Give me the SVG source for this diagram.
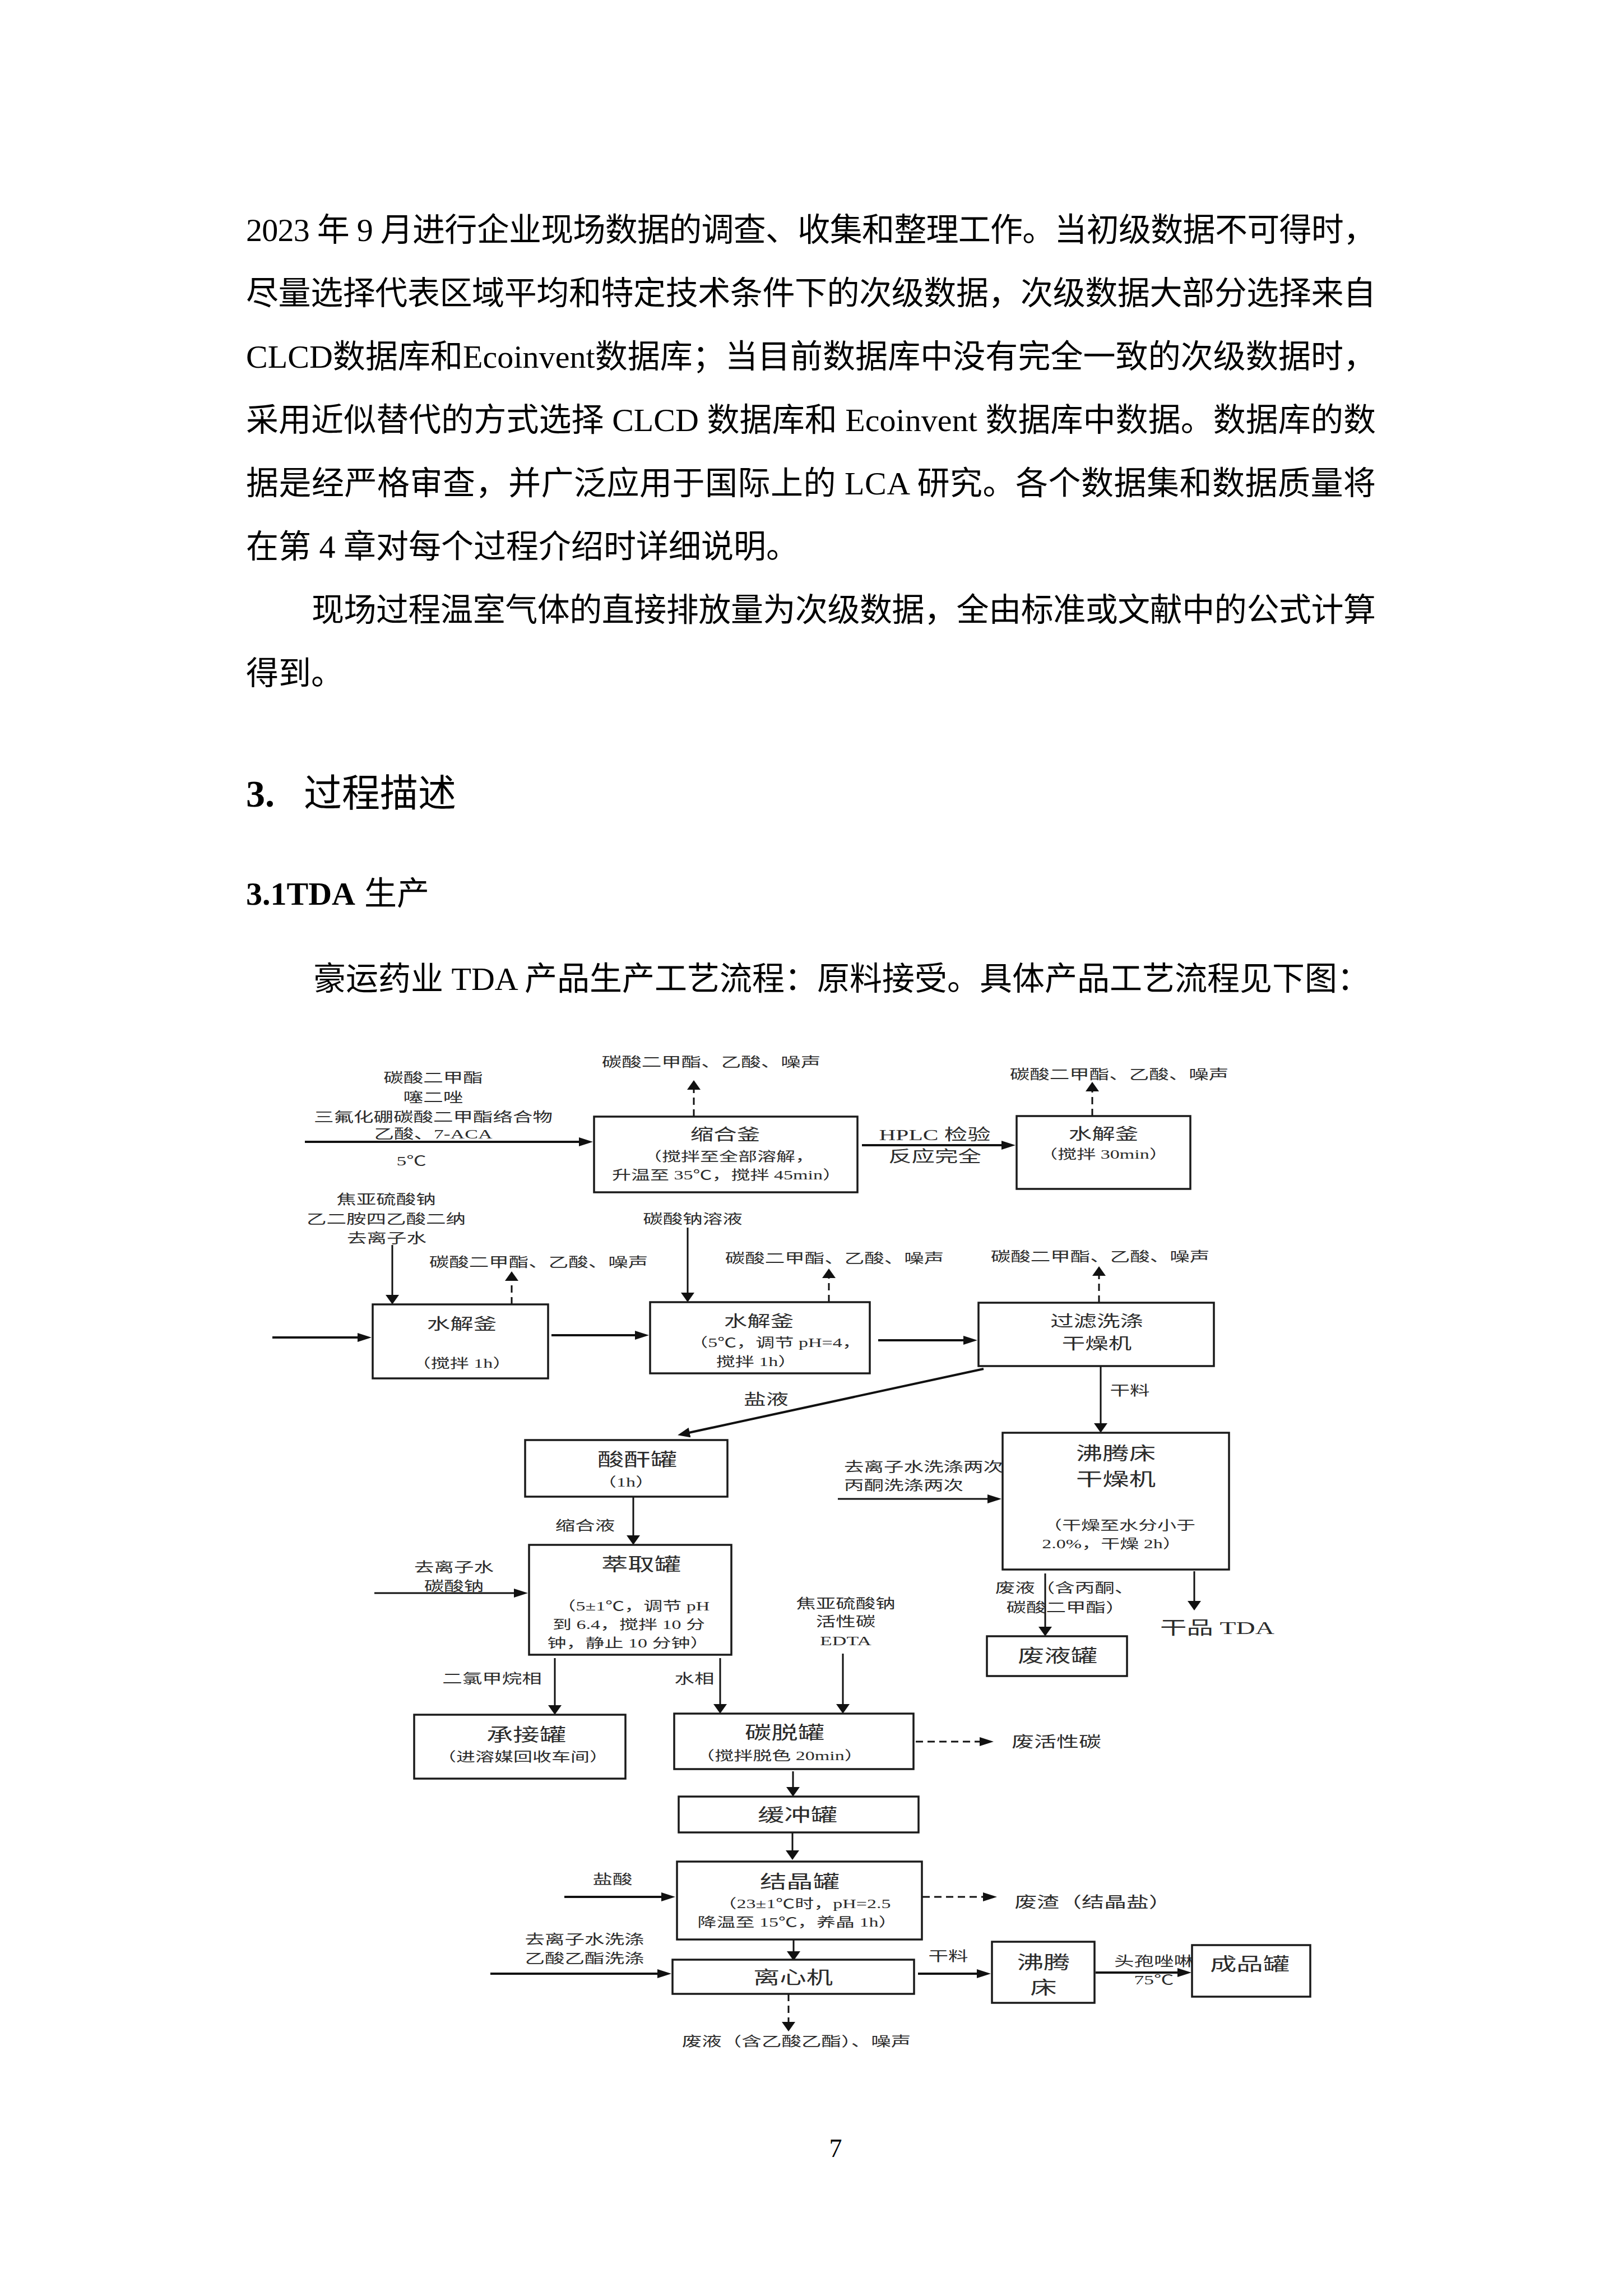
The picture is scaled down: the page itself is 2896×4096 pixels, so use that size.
<svg xmlns="http://www.w3.org/2000/svg" width="2896" height="4096" viewBox="0 0 2896 4096">
<style>
.body{font-family:"Liberation Serif","Noto Sans CJK SC",serif;font-size:58px;fill:#000}
.d{font-family:"Liberation Serif","Noto Sans CJK SC",serif;fill:#2b2b2b;text-anchor:middle;dominant-baseline:central}
.st{text-anchor:start}
.lb{font-size:24px}
.sb{font-size:23px}
.m{font-size:27px}
.t1{font-size:28px}
.t2{font-size:32px}
.box{fill:#fff;stroke:#1a1a1a;stroke-width:3.5}
.ln{fill:none;stroke:#111;stroke-width:3}
.main{stroke-width:4}
.dash{stroke-dasharray:13 8}
</style>
<defs>
<marker id="ah" viewBox="0 0 25 16" refX="19" refY="8" markerWidth="25" markerHeight="16" markerUnits="userSpaceOnUse" orient="auto"><path d="M0,0L25,8L0,16z" fill="#111"/></marker>
<marker id="av" viewBox="0 0 17 24" refX="11" refY="12" markerWidth="17" markerHeight="24" markerUnits="userSpaceOnUse" orient="auto"><path d="M0,0L17,12L0,24z" fill="#111"/></marker>
<marker id="ad" viewBox="0 0 22 18" refX="16" refY="9" markerWidth="22" markerHeight="18" markerUnits="userSpaceOnUse" orient="auto"><path d="M0,0L22,9L0,18z" fill="#111"/></marker>
</defs>
<rect width="2896" height="4096" fill="#fff"/>

<g id="page-text">
<text class="body" x="439" y="430" textLength="2016" lengthAdjust="spacing">2023 年 9 月进行企业现场数据的调查、收集和整理工作。当初级数据不可得时，</text>
<text class="body" x="439" y="543" textLength="2016" lengthAdjust="spacing">尽量选择代表区域平均和特定技术条件下的次级数据，次级数据大部分选择来自</text>
<text class="body" x="439" y="656" textLength="2016" lengthAdjust="spacing">CLCD数据库和Ecoinvent数据库；当目前数据库中没有完全一致的次级数据时，</text>
<text class="body" x="439" y="769" textLength="2016" lengthAdjust="spacing">采用近似替代的方式选择 CLCD 数据库和 Ecoinvent 数据库中数据。数据库的数</text>
<text class="body" x="439" y="882" textLength="2016" lengthAdjust="spacing">据是经严格审查，并广泛应用于国际上的 LCA 研究。各个数据集和数据质量将</text>
<text class="body" x="439" y="995">在第 4 章对每个过程介绍时详细说明。</text>
<text class="body" x="556" y="1108" textLength="1899" lengthAdjust="spacing">现场过程温室气体的直接排放量为次级数据，全由标准或文献中的公式计算</text>
<text class="body" x="439" y="1221">得到。</text>
<text class="body" x="439" y="1439" style="font-size:68px"><tspan font-weight="bold">3.</tspan><tspan x="542">过程描述</tspan></text>
<text class="body" x="439" y="1614"><tspan font-weight="bold">3.1TDA</tspan><tspan x="650">生产</tspan></text>
<text class="body" x="559" y="1766">豪运药业 TDA 产品生产工艺流程：原料接受。具体产品工艺流程见下图：</text>
<text class="body" x="1491" y="3848" text-anchor="middle" style="font-size:46px">7</text>
</g>

<g id="connectors">
<path class="ln main" d="M544,2037H1052" marker-end="url(#ah)"/>
<path class="ln dash" d="M1238,1992V1933" marker-end="url(#av)"/>
<path class="ln main" d="M1538,2043H1806" marker-end="url(#ah)"/>
<path class="ln dash" d="M1949,1991V1936" marker-end="url(#av)"/>
<path class="ln main" d="M486,2386H657" marker-end="url(#ah)"/>
<path class="ln" d="M700,2221V2321" marker-end="url(#av)"/>
<path class="ln dash" d="M913,2327V2274" marker-end="url(#av)"/>
<path class="ln main" d="M984,2382H1152" marker-end="url(#ah)"/>
<path class="ln" d="M1227,2190V2317" marker-end="url(#av)"/>
<path class="ln dash" d="M1479,2323V2269" marker-end="url(#av)"/>
<path class="ln main" d="M1567,2391H1738" marker-end="url(#ah)"/>
<path class="ln dash" d="M1961,2324V2265" marker-end="url(#av)"/>
<path class="ln main" d="M1755,2442L1215,2559" marker-end="url(#ad)"/>
<path class="ln" d="M1964,2437V2550" marker-end="url(#av)"/>
<path class="ln" d="M1130,2670V2750" marker-end="url(#av)"/>
<path class="ln" d="M668,2842H936" marker-end="url(#ah)"/>
<path class="ln" d="M1495,2674H1781" marker-end="url(#ah)"/>
<path class="ln" d="M1865,2807V2913" marker-end="url(#av)"/>
<path class="ln" d="M2131,2803V2867" marker-end="url(#av)"/>
<path class="ln" d="M990,2958V3053" marker-end="url(#av)"/>
<path class="ln" d="M1285,2958V3051" marker-end="url(#av)"/>
<path class="ln" d="M1504,2950V3051" marker-end="url(#av)"/>
<path class="ln dash" d="M1634,3107H1767" marker-end="url(#ah)"/>
<path class="ln" d="M1415,3160V3199" marker-end="url(#av)"/>
<path class="ln" d="M1414,3269V3312" marker-end="url(#av)"/>
<path class="ln main" d="M1007,3384H1199" marker-end="url(#ah)"/>
<path class="ln dash" d="M1646,3384H1773" marker-end="url(#ah)"/>
<path class="ln" d="M1416,3460V3492" marker-end="url(#av)"/>
<path class="ln main" d="M875,3521H1192" marker-end="url(#ah)"/>
<path class="ln dash" d="M1407,3557V3618" marker-end="url(#av)"/>
<path class="ln main" d="M1638,3521H1762" marker-end="url(#ah)"/>
<path class="ln main" d="M1955,3519H2120" marker-end="url(#ah)"/>
</g>

<g id="labels">
<text class="d lb" transform="translate(773 1923) scale(1.48 1)">碳酸二甲酯</text>
<text class="d lb" transform="translate(773 1958) scale(1.48 1)">噻二唑</text>
<text class="d lb" transform="translate(773 1993) scale(1.48 1)">三氟化硼碳酸二甲酯络合物</text>
<text class="d lb" transform="translate(773 2023) scale(1.48 1)">乙酸、7-ACA</text>
<text class="d lb" transform="translate(734 2071) scale(1.48 1)">5℃</text>
<text class="d lb" transform="translate(1269 1895) scale(1.48 1)">碳酸二甲酯、乙酸、噪声</text>
<text class="d t1" transform="translate(1668 2024) scale(1.48 1)">HPLC 检验</text>
<text class="d t1" transform="translate(1668 2063) scale(1.48 1)">反应完全</text>
<text class="d lb" transform="translate(1997 1917) scale(1.48 1)">碳酸二甲酯、乙酸、噪声</text>
<text class="d lb" transform="translate(689 2140) scale(1.48 1)">焦亚硫酸钠</text>
<text class="d lb" transform="translate(689 2175) scale(1.48 1)">乙二胺四乙酸二纳</text>
<text class="d lb" transform="translate(690 2209) scale(1.48 1)">去离子水</text>
<text class="d lb" transform="translate(961 2252) scale(1.48 1)">碳酸二甲酯、乙酸、噪声</text>
<text class="d lb" transform="translate(1236 2175) scale(1.48 1)">碳酸钠溶液</text>
<text class="d lb" transform="translate(1489 2245) scale(1.48 1)">碳酸二甲酯、乙酸、噪声</text>
<text class="d lb" transform="translate(1963 2242) scale(1.48 1)">碳酸二甲酯、乙酸、噪声</text>
<text class="d m" transform="translate(1367 2497) scale(1.48 1)">盐液</text>
<text class="d lb" transform="translate(2016 2481) scale(1.48 1)">干料</text>
<text class="d lb" transform="translate(1044 2722) scale(1.48 1)">缩合液</text>
<text class="d lb" transform="translate(810 2796) scale(1.48 1)">去离子水</text>
<text class="d lb" transform="translate(810 2830) scale(1.48 1)">碳酸钠</text>
<text class="d lb st" transform="translate(1506 2617) scale(1.48 1)">去离子水洗涤两次</text>
<text class="d lb st" transform="translate(1506 2650) scale(1.48 1)">丙酮洗涤两次</text>
<text class="d lb" transform="translate(1509 2861) scale(1.48 1)">焦亚硫酸钠</text>
<text class="d lb" transform="translate(1509 2893) scale(1.48 1)">活性碳</text>
<text class="d lb" transform="translate(1509 2927) scale(1.48 1)">EDTA</text>
<text class="d lb" transform="translate(1900 2833) scale(1.48 1)">废液（含丙酮、</text>
<text class="d lb" transform="translate(1902 2868) scale(1.48 1)">碳酸二甲酯）</text>
<text class="d t2" transform="translate(2172 2904) scale(1.48 1)">干品 TDA</text>
<text class="d lb" transform="translate(878 2995) scale(1.48 1)">二氯甲烷相</text>
<text class="d lb" transform="translate(1239 2995) scale(1.48 1)">水相</text>
<text class="d m" transform="translate(1885 3108) scale(1.48 1)">废活性碳</text>
<text class="d lb" transform="translate(1093 3353) scale(1.48 1)">盐酸</text>
<text class="d m" transform="translate(1950 3394) scale(1.48 1)">废渣（结晶盐）</text>
<text class="d lb" transform="translate(1043 3460) scale(1.48 1)">去离子水洗涤</text>
<text class="d lb" transform="translate(1043 3494) scale(1.48 1)">乙酸乙酯洗涤</text>
<text class="d lb" transform="translate(1421 3642) scale(1.48 1)">废液（含乙酸乙酯）、噪声</text>
<text class="d lb" transform="translate(1692 3490) scale(1.48 1)">干料</text>
<text class="d lb st" transform="translate(1988 3499) scale(1.48 1)">头孢唑啉</text>
<text class="d lb" transform="translate(2059 3532) scale(1.48 1)">75℃</text>
</g>

<g id="n-suohefu">
<rect class="box" x="1060" y="1992" width="470" height="135"/>
<text class="d t1" transform="translate(1294 2024) scale(1.48 1)">缩合釜</text>
<text class="d sb" transform="translate(1300 2063) scale(1.48 1)">（搅拌至全部溶解，</text>
<text class="d sb" transform="translate(1297 2096) scale(1.48 1)">升温至 35℃，搅拌 45min）</text>
</g>
<g id="n-shuijiefu1">
<rect class="box" x="1814" y="1991" width="310" height="130"/>
<text class="d t1" transform="translate(1969 2023) scale(1.48 1)">水解釜</text>
<text class="d sb" transform="translate(1969 2059) scale(1.48 1)">（搅拌 30min）</text>
</g>
<g id="n-shuijiefu2">
<rect class="box" x="665" y="2327" width="313" height="132"/>
<text class="d t1" transform="translate(824 2362) scale(1.48 1)">水解釜</text>
<text class="d sb" transform="translate(824 2432) scale(1.48 1)">（搅拌 1h）</text>
</g>
<g id="n-shuijiefu3">
<rect class="box" x="1160" y="2323" width="392" height="127"/>
<text class="d t1" transform="translate(1354 2357) scale(1.48 1)">水解釜</text>
<text class="d sb" transform="translate(1383 2395) scale(1.48 1)">（5℃，调节 pH=4，</text>
<text class="d sb" transform="translate(1350 2429) scale(1.48 1)">搅拌 1h）</text>
</g>
<g id="n-guolv">
<rect class="box" x="1746" y="2324" width="420" height="113"/>
<text class="d t1" transform="translate(1957 2357) scale(1.48 1)">过滤洗涤</text>
<text class="d t1" transform="translate(1957 2397) scale(1.48 1)">干燥机</text>
</g>
<g id="n-suangan">
<rect class="box" x="937" y="2569" width="361" height="101"/>
<text class="d t2" transform="translate(1137 2604) scale(1.48 1)">酸酐罐</text>
<text class="d sb" transform="translate(1117 2644) scale(1.48 1)">（1h）</text>
</g>
<g id="n-cuiqu">
<rect class="box" x="944" y="2756" width="361" height="196"/>
<text class="d t2" transform="translate(1144 2791) scale(1.48 1)">萃取罐</text>
<text class="d sb" transform="translate(1130 2865) scale(1.48 1)">（5±1℃，调节 pH</text>
<text class="d sb" transform="translate(1122 2898) scale(1.48 1)">到 6.4，搅拌 10 分</text>
<text class="d sb" transform="translate(1121 2931) scale(1.48 1)">钟，静止 10 分钟）</text>
</g>
<g id="n-feitengchuang1">
<rect class="box" x="1789" y="2556" width="404" height="244"/>
<text class="d t2" transform="translate(1991 2593) scale(1.48 1)">沸腾床</text>
<text class="d t2" transform="translate(1991 2639) scale(1.48 1)">干燥机</text>
<text class="d sb" transform="translate(1997 2721) scale(1.48 1)">（干燥至水分小于</text>
<text class="d sb" transform="translate(1984 2754) scale(1.48 1)">2.0%，干燥 2h）</text>
</g>
<g id="n-feiye">
<rect class="box" x="1761" y="2919" width="250" height="71"/>
<text class="d t2" transform="translate(1887 2954) scale(1.48 1)">废液罐</text>
</g>
<g id="n-chengjie">
<rect class="box" x="739" y="3059" width="377" height="114"/>
<text class="d t2" transform="translate(939 3095) scale(1.48 1)">承接罐</text>
<text class="d sb" transform="translate(933 3134) scale(1.48 1)">（进溶媒回收车间）</text>
</g>
<g id="n-tantuo">
<rect class="box" x="1203" y="3057" width="427" height="99"/>
<text class="d t2" transform="translate(1400 3091) scale(1.48 1)">碳脱罐</text>
<text class="d sb" transform="translate(1391 3132) scale(1.48 1)">（搅拌脱色 20min）</text>
</g>
<g id="n-huanchong">
<rect class="box" x="1211" y="3205" width="428" height="64"/>
<text class="d t2" transform="translate(1423 3238) scale(1.48 1)">缓冲罐</text>
</g>
<g id="n-jiejing">
<rect class="box" x="1208" y="3321" width="437" height="139"/>
<text class="d t2" transform="translate(1427 3357) scale(1.48 1)">结晶罐</text>
<text class="d sb" transform="translate(1435 3396) scale(1.48 1)">（23±1℃时，pH=2.5</text>
<text class="d sb" transform="translate(1423 3429) scale(1.48 1)">降温至 15℃，养晶 1h）</text>
</g>
<g id="n-lixin">
<rect class="box" x="1200" y="3496" width="431" height="61"/>
<text class="d t2" transform="translate(1415 3528) scale(1.48 1)">离心机</text>
</g>
<g id="n-feitengchuang2">
<rect class="box" x="1770" y="3464" width="183" height="109"/>
<text class="d t2" transform="translate(1862 3501) scale(1.48 1)">沸腾</text>
<text class="d t2" transform="translate(1862 3546) scale(1.48 1)">床</text>
</g>
<g id="n-chengpin">
<rect class="box" x="2127" y="3470" width="211" height="92"/>
<text class="d t2" transform="translate(2230 3504) scale(1.48 1)">成品罐</text>
</g>
</svg>
